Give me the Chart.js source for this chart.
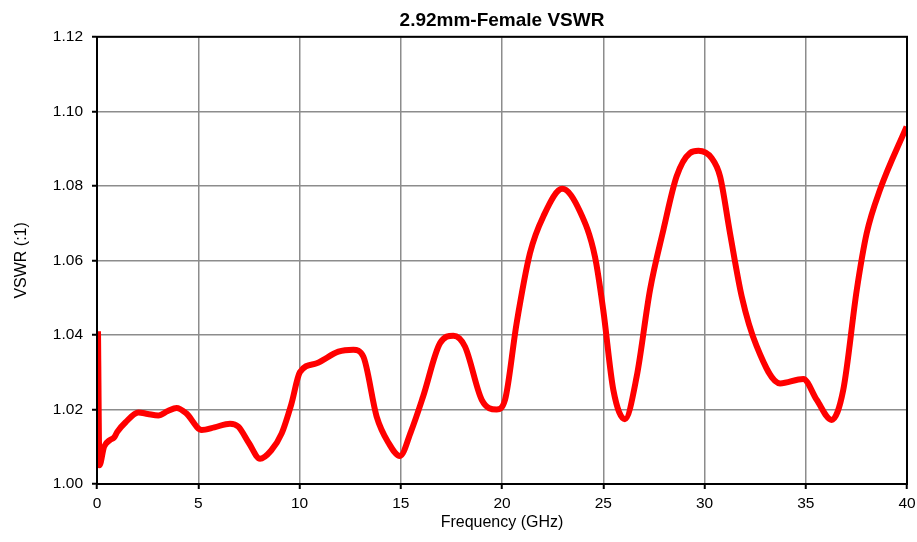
<!DOCTYPE html>
<html>
<head>
<meta charset="utf-8">
<script src="https://cdn.jsdelivr.net/npm/chart.js@4"></script>
<style>
  html, body { margin: 0; padding: 0; background: #fff; }
  #wrap { width: 917px; height: 542px; }
</style>
</head>
<body>
<div id="wrap"><canvas id="vswrChart" width="917" height="542"></canvas></div>
<script>
const freqGHz = [0.05, 0.12, 0.35, 0.64, 0.85, 1.0, 1.4, 2.04, 2.5, 3.03, 3.5, 3.93, 4.4, 5.17, 5.8, 6.57, 6.98,
    7.5, 8.05, 8.6, 9.12, 9.6, 10.02, 10.85, 11.92, 12.66, 13.15, 13.81, 14.4, 14.96, 15.5, 16.1, 16.94,
    17.6, 18.17, 19.0, 19.74, 20.15, 20.72, 21.38, 22.04, 22.98, 23.85, 24.59, 25.0, 25.5, 26.07, 26.65,
    27.31, 27.97, 28.62, 29.28, 29.7, 30.36, 30.77, 31.26, 31.84, 32.58, 33.73, 34.88, 35.54, 36.28,
    36.85, 37.52, 38.01, 38.67, 39.98];
const vswr = [1.041, 1.005, 1.010, 1.0118, 1.0125, 1.014, 1.0165, 1.0192, 1.0188, 1.0184, 1.0196, 1.0204, 1.019, 1.0145, 1.0152, 1.0162, 1.0154,
    1.011, 1.0068, 1.009, 1.0136, 1.0215, 1.030, 1.0324, 1.0355, 1.0360, 1.0342, 1.0181, 1.0110, 1.0075, 1.0140, 1.0234, 1.0378,
    1.0398, 1.0369, 1.0226, 1.0200, 1.0226, 1.0431, 1.0619, 1.0718, 1.0792, 1.0731, 1.0610, 1.0467, 1.0252, 1.0174, 1.0288,
    1.0521, 1.0682, 1.0825, 1.0888, 1.0894, 1.0874, 1.0825, 1.0673, 1.0503, 1.0369, 1.0270, 1.0282, 1.0226, 1.0172,
    1.0252, 1.0521, 1.0673, 1.0790, 1.0959];

const yTicks = [1.00, 1.02, 1.04, 1.06, 1.08, 1.10, 1.12];
const xTicks = [0, 5, 10, 15, 20, 25, 30, 35, 40];

const font = 'Liberation Sans, Arial, sans-serif';

// black frame round the plot area (top and right edges too)
const frame = {
    id: 'frame',
    afterDraw(chart) {
        const a = chart.chartArea, ctx = chart.ctx;
        ctx.save();
        ctx.strokeStyle = '#000';
        ctx.lineWidth = 2;
        ctx.strokeRect(a.left, a.top, a.right - a.left, a.bottom - a.top);
        ctx.restore();
    }
};

new Chart(document.getElementById('vswrChart'), {
    type: 'line',
    data: {
        datasets: [{
            data: freqGHz.map((f, i) => ({ x: f, y: vswr[i] })),
            borderColor: '#ff0000',
            borderWidth: 6,
            pointRadius: 0,
            cubicInterpolationMode: 'monotone',
            fill: false
        }]
    },
    options: {
        responsive: false,
        animation: false,
        layout: { padding: { left: 0, right: 10, top: 0, bottom: 0 } },
        plugins: {
            legend: { display: false },
            tooltip: { enabled: false },
            title: {
                display: true,
                fullSize: false,
                text: '2.92mm-Female VSWR',
                color: '#000',
                font: { family: font, size: 19, weight: 'bold', lineHeight: 1.2 },
                padding: { top: 9, bottom: 5 }
            }
        },
        scales: {
            x: {
                type: 'linear',
                min: 0,
                max: 40,
                afterBuildTicks: s => { s.ticks = xTicks.map(v => ({ value: v })); },
                afterFit: s => { s.height = 58; s.paddingRight = 0; s.paddingLeft = 0; },
                ticks: { color: '#000', font: { family: font, size: 15.5 }, padding: 5 },
                grid: { color: '#8c8c8c', lineWidth: 1.5, tickColor: '#000', tickLength: 5, tickWidth: 2 },
                border: { color: '#000', width: 2 },
                title: { display: true, text: 'Frequency (GHz)', color: '#000', font: { family: font, size: 16 }, padding: 10 }
            },
            y: {
                min: 1.00,
                max: 1.12,
                afterBuildTicks: s => { s.ticks = yTicks.map(v => ({ value: v })); },
                afterFit: s => { s.width = 97; s.paddingTop = 0; s.paddingBottom = 0; },
                ticks: { color: '#000', font: { family: font, size: 15.5 }, padding: 9, callback: v => v.toFixed(2) },
                grid: { color: '#8c8c8c', lineWidth: 1.5, tickColor: '#000', tickLength: 5, tickWidth: 2 },
                border: { color: '#000', width: 2 },
                title: { display: true, text: 'VSWR (:1)', color: '#000', font: { family: font, size: 16 }, padding: 12 }
            }
        }
    },
    plugins: [frame]
});
</script>
</body>
</html>
